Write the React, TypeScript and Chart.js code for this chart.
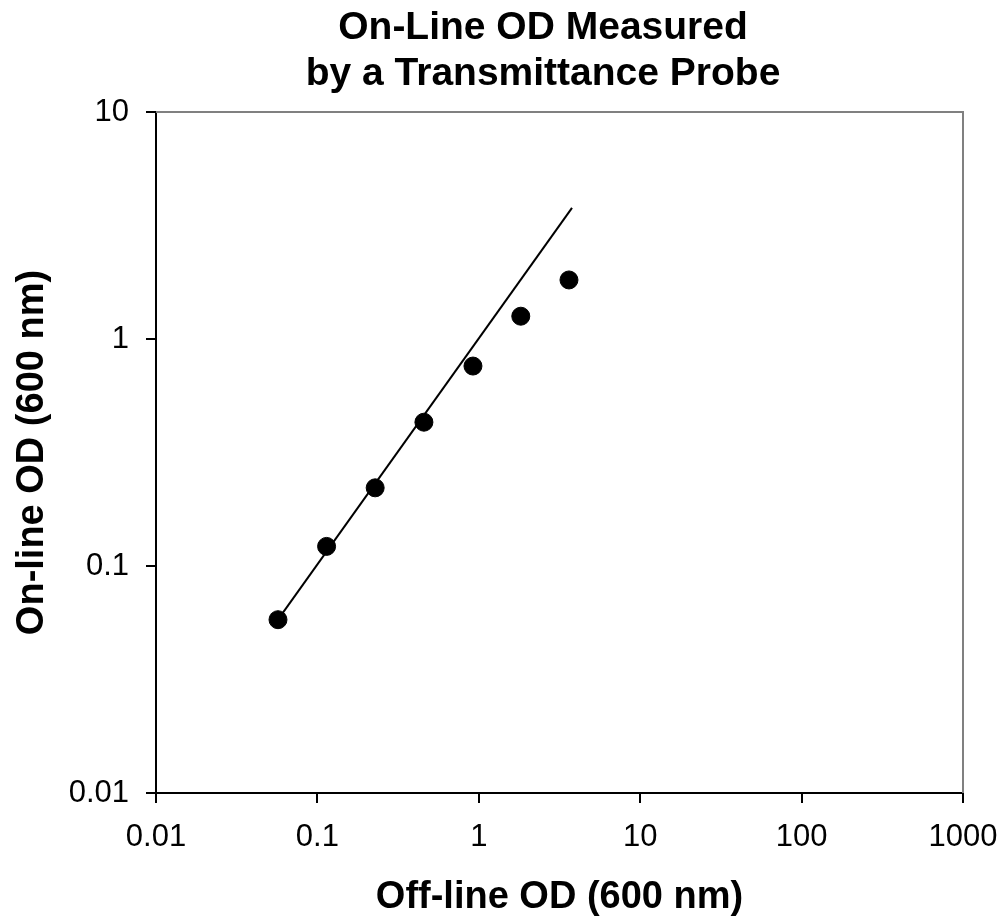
import React, { useEffect, useRef } from "react";
import { Chart, registerables } from "chart.js";

Chart.register(...registerables);

const offlineOD = [0.057, 0.114, 0.228, 0.457, 0.92, 1.82, 3.62];
const onlineOD = [0.058, 0.122, 0.221, 0.43, 0.76, 1.26, 1.82];
const fitX = [0.054, 3.78];
const fitY = [0.055, 3.78];
const xTicks = [0.01, 0.1, 1, 10, 100, 1000];
const yTicks = [0.01, 0.1, 1, 10];
const titleLines = ["On-Line OD Measured", "by a Transmittance Probe"];
const xTitle = "Off-line OD (600 nm)";
const yTitle = "On-line OD (600 nm)";

const FONT = "'Liberation Sans', Arial, sans-serif";

export default function App() {
  const ref = useRef<HTMLCanvasElement>(null);
  useEffect(() => {
    if (!ref.current) return;
    const framePlugin = {
      id: "frame",
      afterDatasetsDraw(chart: any) {
        const { ctx, chartArea } = chart;
        ctx.save();
        ctx.strokeStyle = "#808080";
        ctx.lineWidth = 2;
        ctx.beginPath();
        ctx.moveTo(chartArea.left, chartArea.top);
        ctx.lineTo(chartArea.right, chartArea.top);
        ctx.lineTo(chartArea.right, chartArea.bottom);
        ctx.stroke();
        ctx.restore();
      },
      afterDraw(chart: any) {
        const { ctx } = chart;
        ctx.save();
        ctx.fillStyle = "#000";
        ctx.font = `bold 39px ${FONT}`;
        ctx.textAlign = "center";
        ctx.textBaseline = "middle";
        ctx.fillText(titleLines[0], 543, 28);
        ctx.fillText(titleLines[1], 543, 74);
        ctx.restore();
      },
    };
    const chart = new Chart(ref.current, {
      type: "scatter",
      data: {
        datasets: [
          {
            type: "line",
            data: fitX.map((x, i) => ({ x, y: fitY[i] })),
            borderColor: "#000",
            borderWidth: 2,
            pointRadius: 0,
            fill: false,
          },
          {
            data: offlineOD.map((x, i) => ({ x, y: onlineOD[i] })),
            backgroundColor: "#000",
            borderColor: "#000",
            pointRadius: 9,
            pointHoverRadius: 9,
          },
        ] as any,
      },
      plugins: [framePlugin],
      options: {
        animation: false,
        responsive: false,
        events: [],
        layout: { padding: { top: 112, right: 41, left: 0, bottom: 0 } },
        plugins: { legend: { display: false }, tooltip: { enabled: false }, title: { display: false } },
        scales: {
          x: {
            type: "logarithmic",
            min: 0.01,
            max: 1000,
            afterBuildTicks: (s: any) => { s.ticks = xTicks.map((v) => ({ value: v })); },
            afterFit: (s: any) => { s.height = 923 - 793; s.paddingLeft = 0; s.paddingRight = 0; },
            grid: { drawOnChartArea: false, drawTicks: true, tickLength: 10, color: "#000", lineWidth: 2 },
            border: { color: "#000", width: 2 },
            ticks: {
              color: "#000",
              font: { family: FONT, size: 31 },
              padding: 16,
              maxRotation: 0,
              autoSkip: false,
              callback: (v: any) => String(v),
            },
            title: {
              display: true,
              text: xTitle,
              color: "#000",
              font: { family: FONT, size: 38, weight: "bold" },
              padding: { top: 0, bottom: 3 },
            },
          },
          y: {
            type: "logarithmic",
            min: 0.01,
            max: 10,
            afterBuildTicks: (s: any) => { s.ticks = yTicks.map((v) => ({ value: v })); },
            afterFit: (s: any) => { s.width = 156; s.paddingTop = 0; s.paddingBottom = 0; },
            grid: { drawOnChartArea: false, drawTicks: true, tickLength: 10, color: "#000", lineWidth: 2 },
            border: { color: "#000", width: 2 },
            ticks: {
              color: "#000",
              font: { family: FONT, size: 31 },
              padding: 17,
              autoSkip: false,
              callback: (v: any) => String(v),
            },
            title: {
              display: true,
              text: yTitle,
              color: "#000",
              font: { family: FONT, size: 38, weight: "bold" },
              padding: { top: 10, bottom: 0 },
            },
          },
        },
      } as any,
    });
    return () => chart.destroy();
  }, []);
  return (
    <div style={{ position: "absolute", left: 0, top: 0, width: 1004, height: 923, background: "#fff" }}>
      <canvas ref={ref} width={1004} height={923} style={{ display: "block" }} />
    </div>
  );
}
